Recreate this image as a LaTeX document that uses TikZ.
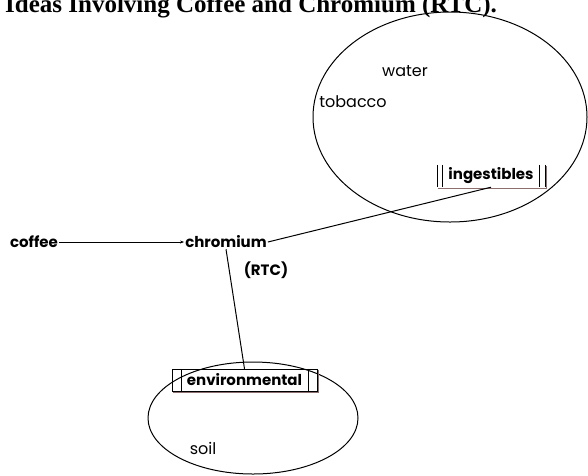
\documentclass[tikz,border=0pt]{standalone}
\usepackage{fontspec}
\setmainfont{Liberation Serif}
\newfontfamily\gfont{Poppins}
\usetikzlibrary{shapes.geometric,arrows.meta,calc}
\definecolor{shadowc}{RGB}{140,110,110}
\tikzset{
  lbl/.style={font=\gfont\fontsize{16}{18}\selectfont, inner sep=1pt},
  blbl/.style={font=\gfont\bfseries\fontsize{15}{18}\selectfont, inner sep=1pt},
  oval/.style={draw, ellipse, line width=1pt, inner sep=0pt},
  conn/.style={line width=1pt},
}
\begin{document}
\begin{tikzpicture}[x=1pt,y=-1pt]
\useasboundingbox (0,0) rectangle (588,475);
\node[anchor=base west, inner sep=0pt, font=\bfseries\fontsize{25}{28}\selectfont] (title) at (5,12) {Ideas Involving Coffee and Chromium (RTC).};
% ovals
\node[oval, minimum width=274, minimum height=210] (top) at (450,117) {};
\node[oval, minimum width=210, minimum height=112] (bot) at (253,418) {};
% labels
\node[lbl] (water) at (405,71) {water};
\node[lbl] (tobacco) at (353,102) {tobacco};
\node[lbl] (soil) at (203,448) {soil};
\node[blbl] (coffee) at (34,242) {coffee};
\node[blbl] (chromium) at (226,242) {chromium};
\node[blbl] (rtc) at (266,270) {(RTC)};
% boxed labels
\node[blbl, minimum width=107, minimum height=22, inner sep=0pt] (ing) at (491,176) {ingestibles};
\draw[shadowc] ($(ing.south west)+(1,1)$) -- ($(ing.south east)+(1,1)$) -- ($(ing.north east)+(1,1)$);
\draw (ing.north west) -- (ing.south west);
\draw ($(ing.north west)+(5,0)$) -- ($(ing.south west)+(5,0)$);
\draw (ing.north east) -- (ing.south east);
\draw ($(ing.north east)+(-6,0)$) -- ($(ing.south east)+(-6,0)$);
\node[blbl, minimum width=145, minimum height=22, inner sep=0pt] (env) at (244.5,380) {environmental};
\draw[shadowc] ($(env.south west)+(1,1)$) -- ($(env.south east)+(1,1)$) -- ($(env.north east)+(1,1)$);
\draw (env.north west) rectangle (env.south east);
\draw ($(env.north west)+(9,0)$) -- ($(env.south west)+(9,0)$);
\draw ($(env.north east)+(-9,0)$) -- ($(env.south east)+(-9,0)$);
% connectors
\draw[conn, -{Stealth[length=4pt,width=3pt]}] (coffee.east) -- (chromium.west);
\draw[conn] (chromium.east) -- (ing.south);
\draw[conn] (chromium.south) -- (env.north);
\end{tikzpicture}
\end{document}
